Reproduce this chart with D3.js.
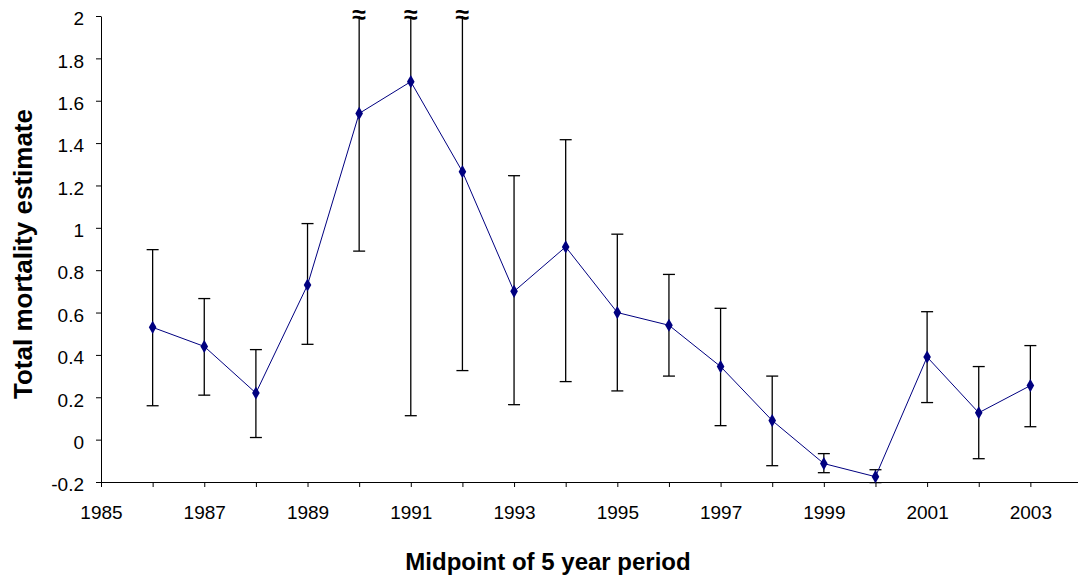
<!DOCTYPE html>
<html>
<head>
<meta charset="utf-8">
<script src="https://cdn.jsdelivr.net/npm/d3@7"></script>
<style>
  body { margin: 0; background: #fff; }
  svg { display: block; font-family: 'Liberation Sans', Arial, sans-serif; }
  .axis path, .axis line { stroke: #000; }
  .axis text { font-size: 19px; fill: #000; font-family: 'Liberation Sans', Arial, sans-serif; }
</style>
</head>
<body>
<script>

const w = 1078;
const h = 582;

// data

const years = [1986, 1987, 1988, 1989, 1990, 1991, 1992, 1993, 1994, 1995, 1996, 1997, 1998, 1999, 2000, 2001, 2002, 2003];
const estimate = [0.53, 0.44, 0.22, 0.73, 1.54, 1.69, 1.265, 0.70, 0.91, 0.60, 0.54, 0.345, 0.09, -0.113, -0.175, 0.39, 0.127, 0.255];
const lower = [0.16, 0.21, 0.01, 0.45, 0.89, 0.113, 0.326, 0.165, 0.274, 0.23, 0.30, 0.066, -0.123, -0.156, -0.203, 0.175, -0.09, 0.061];
const upper = [0.897, 0.666, 0.425, 1.02, 2, 2, 2, 1.246, 1.416, 0.97, 0.78, 0.62, 0.30, -0.066, -0.142, 0.604, 0.345, 0.444];
// bars that run off the top of the chart
const broken = [1990, 1991, 1992];

const yTicks = [-0.2, 0, 0.2, 0.4, 0.6, 0.8, 1, 1.2, 1.4, 1.6, 1.8, 2];
const xTicks = d3.range(1985, 2004);

const svg = d3.select('body').append('svg').attr('width', w).attr('height', h);

// scales

const xScale = d3.scaleLinear().domain([1985, 2004]).range([101, 1082]);
const yScale = d3.scaleLinear().domain([-0.2, 2]).range([482, 16]);

// axes

const xAxis = d3.axisBottom(xScale).tickValues(xTicks).tickSize(5).tickSizeOuter(0)
    .tickFormat(d => (d - 1985) % 2 === 0 ? d : '');

const yAxis = d3.axisLeft(yScale).tickValues(yTicks).tickSize(5).tickSizeOuter(0)
    .tickFormat(d => String(+d.toFixed(1)));

svg.append('g').attr('class', 'axis').attr('transform', `translate(0,${yScale(-0.2)})`).call(xAxis)
    .selectAll('text').attr('y', 24);

svg.append('g').attr('class', 'axis').attr('transform', `translate(${xScale(1985)},0)`).call(yAxis)
    .selectAll('text').attr('x', -17).attr('dy', '0.46em');

// error bars

const bars = svg.append('g').attr('class', 'errors');

years.forEach((yr, i) => {
    const x = xScale(yr);
    bars.append('line')
        .attr('x1', x).attr('x2', x)
        .attr('y1', yScale(lower[i])).attr('y2', yScale(upper[i]))
        .attr('stroke', '#000').attr('stroke-width', 1.3);
    bars.append('line')
        .attr('x1', x - 6).attr('x2', x + 6)
        .attr('y1', yScale(lower[i])).attr('y2', yScale(lower[i]))
        .attr('stroke', '#000').attr('stroke-width', 1.3);
    if (broken.includes(yr)) {
        bars.append('text')
            .attr('x', x).attr('y', 23)
            .attr('text-anchor', 'middle')
            .attr('font-size', 25).attr('font-weight', 'bold')
            .text('≈');
    } else {
        bars.append('line')
            .attr('x1', x - 6).attr('x2', x + 6)
            .attr('y1', yScale(upper[i])).attr('y2', yScale(upper[i]))
            .attr('stroke', '#000').attr('stroke-width', 1.3);
    }
});

// line and markers

const line = d3.line().x((d, i) => xScale(years[i])).y(d => yScale(d));

svg.append('path').datum(estimate)
    .attr('d', line)
    .attr('fill', 'none')
    .attr('stroke', '#000080')
    .attr('stroke-width', 1);

svg.append('g').selectAll('path').data(estimate).enter().append('path')
    .attr('d', d3.symbol().type(d3.symbolDiamond).size(50))
    .attr('transform', (d, i) => `translate(${xScale(years[i])},${yScale(d)})`)
    .attr('fill', '#000080');

// titles

svg.append('text')
    .attr('x', 548).attr('y', 570)
    .attr('text-anchor', 'middle')
    .attr('font-size', 24).attr('font-weight', 'bold')
    .text('Midpoint of 5 year period');

svg.append('text')
    .attr('transform', 'translate(32,254) rotate(-90)')
    .attr('text-anchor', 'middle')
    .attr('font-size', 26).attr('font-weight', 'bold')
    .text('Total mortality estimate');

</script>
</body>
</html>
